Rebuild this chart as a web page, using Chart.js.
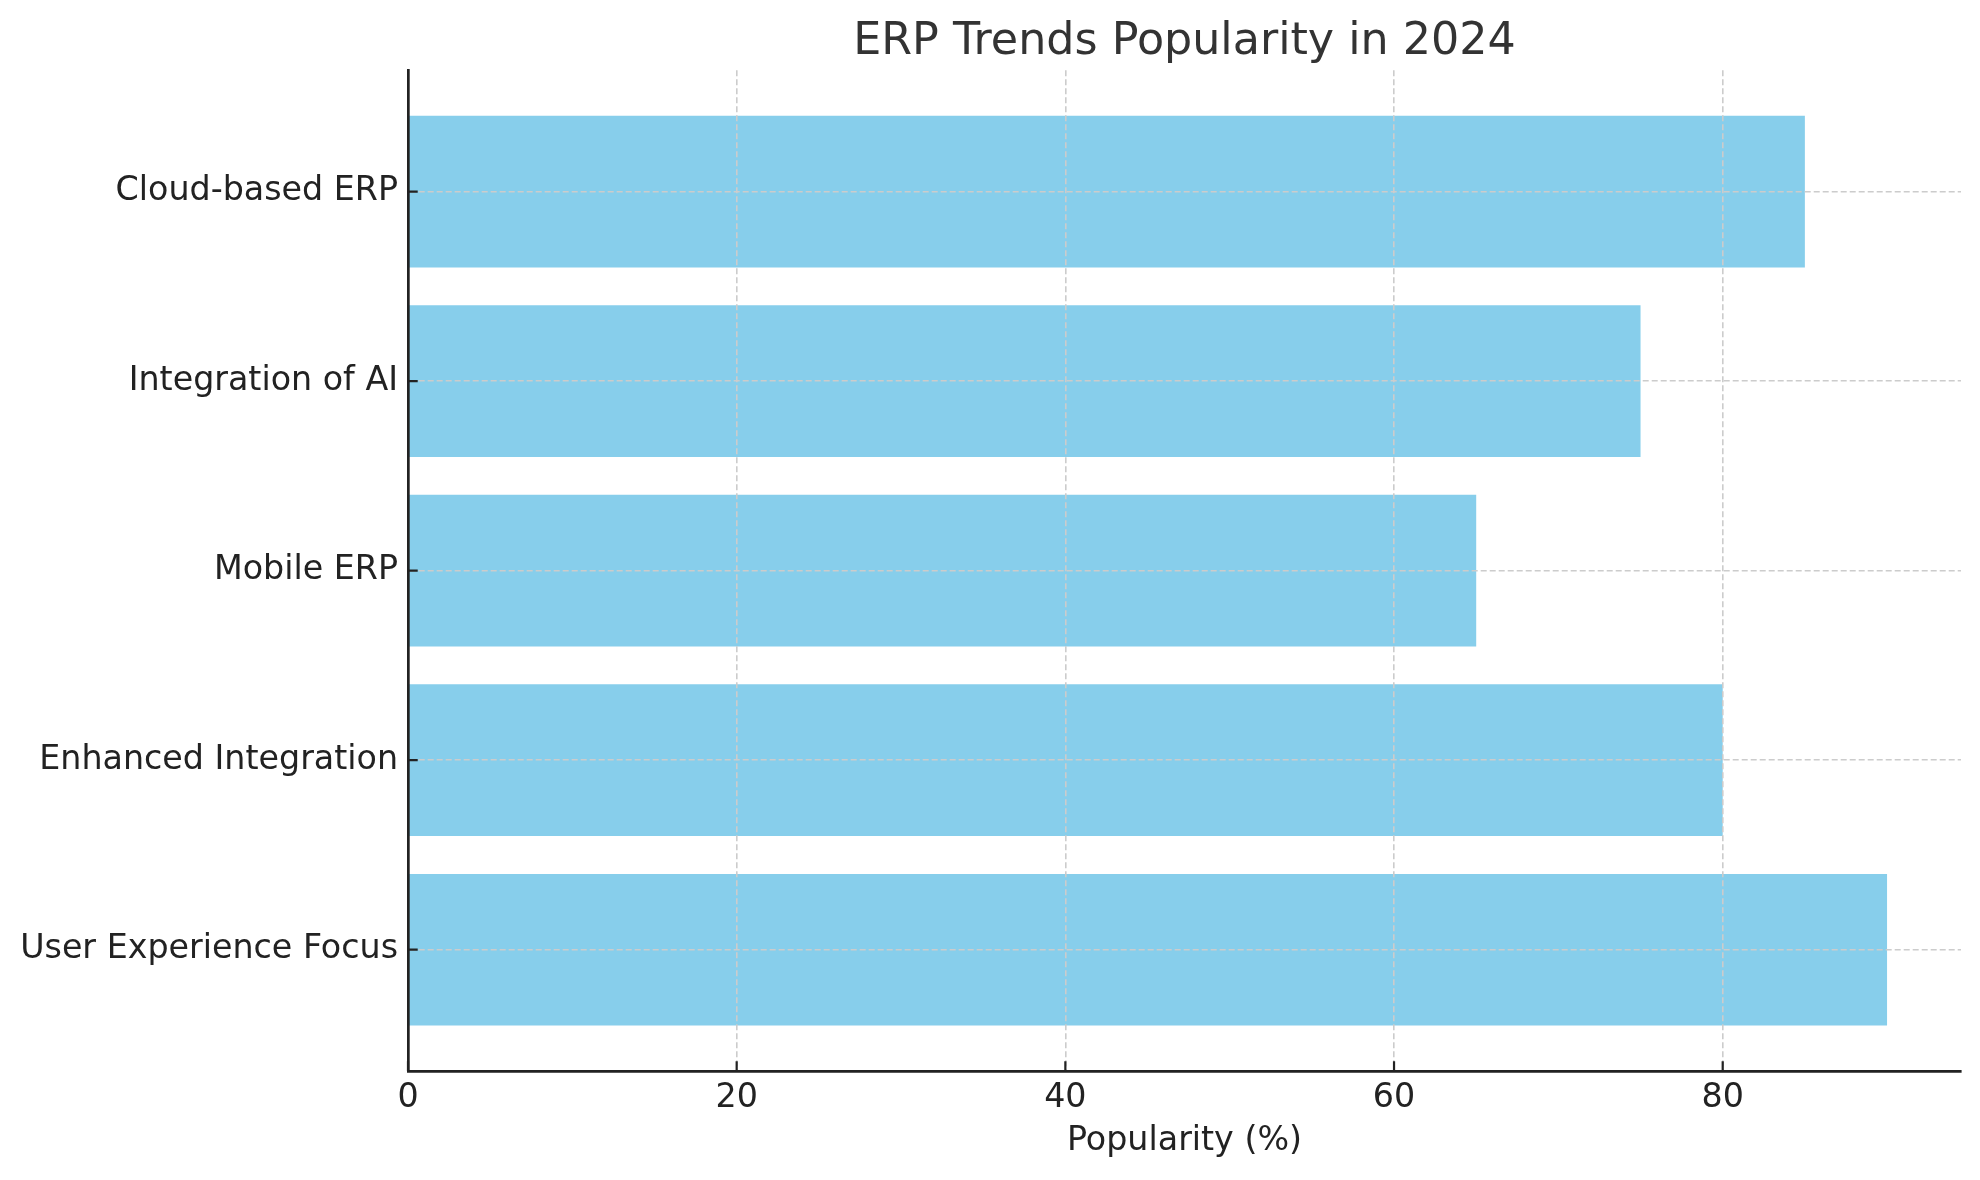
<!DOCTYPE html>
<html>
<head>
<meta charset="utf-8">
<script src="https://cdn.jsdelivr.net/npm/chart.js@4.4.1/dist/chart.umd.min.js"></script>
<style>
  html, body { margin: 0; padding: 0; background: #fff; }
  canvas { display: block; }
</style>
</head>
<body>
<canvas id="myChart" width="1980" height="1180"></canvas>
<script>
// categories listed top to bottom, as in the picture
const categories = ["Cloud-based ERP", "Integration of AI", "Mobile ERP", "Enhanced Integration", "User Experience Focus"];
const popularity = [85, 75, 65, 80, 90];
const xTicks = [0, 20, 40, 60, 80];

const FONT = "'DejaVu Sans', sans-serif";
const ink = "#222222";

// matplotlib-style ticks pointing into the plot
const innerTicks = {
  id: "innerTicks",
  afterDraw(chart) {
    const { ctx, chartArea, scales } = chart;
    ctx.save();
    ctx.strokeStyle = ink;
    ctx.lineWidth = 2.2;
    ctx.beginPath();
    scales.x.ticks.forEach((t) => {
      const px = scales.x.getPixelForValue(t.value);
      ctx.moveTo(px, chartArea.bottom);
      ctx.lineTo(px, chartArea.bottom - 9.7);
    });
    scales.y.ticks.forEach((t) => {
      const py = scales.y.getPixelForValue(t.value);
      ctx.moveTo(chartArea.left, py);
      ctx.lineTo(chartArea.left + 9.7, py);
    });
    ctx.stroke();
    ctx.restore();
  },
};

const ctx = document.getElementById("myChart");

new Chart(ctx, {
  type: "bar",
  data: {
    datasets: [
      {
        data: popularity.map((v, i) => ({ x: v, y: i })),
        backgroundColor: "#87CEEB",
        borderWidth: 0,
        categoryPercentage: 1,
        barPercentage: 0.8,
      },
    ],
  },
  plugins: [innerTicks],
  options: {
    indexAxis: "y",
    responsive: false,
    animation: false,
    devicePixelRatio: 1,
    layout: { padding: { left: 20, right: 19, top: 0, bottom: 0 } },
    plugins: {
      legend: { display: false },
      tooltip: { enabled: false },
      title: {
        display: true,
        text: "ERP Trends Popularity in 2024",
        fullSize: false,
        color: "#333333",
        font: { family: FONT, size: 44.4, weight: "normal" },
        padding: { top: 16, bottom: 1 },
      },
    },
    scales: {
      x: {
        type: "linear",
        min: 0,
        max: 94.5,
        afterBuildTicks: (s) => { s.ticks = xTicks.map((v) => ({ value: v })); },
        afterFit: (s) => { s.height = 109; },
        grid: { color: "#cccccc", lineWidth: 1.6, drawTicks: false, z: 1 },
        border: { display: true, color: ink, width: 2.7, dash: [6, 3], z: 2 },
        ticks: { color: ink, padding: 7, font: { family: FONT, size: 33.3 } },
        title: {
          display: true,
          text: "Popularity (%)",
          color: ink,
          font: { family: FONT, size: 33.3 },
          padding: { top: 4, bottom: 19 },
        },
      },
      y: {
        type: "linear",
        reverse: true,
        offset: false,
        min: -0.64,
        max: 4.64,
        afterBuildTicks: (s) => { s.ticks = categories.map((c, i) => ({ value: i })); },
        afterFit: (s) => { s.width = 388; },
        grid: { color: "#cccccc", lineWidth: 1.6, drawTicks: false, offset: false, z: 1 },
        border: { display: true, color: ink, width: 2.7, dash: [6, 3], z: 2 },
        ticks: {
          color: ink,
          padding: 10,
          font: { family: FONT, size: 33.3 },
          callback: (v) => categories[v] ?? "",
        },
      },
    },
  },
});
</script>
</body>
</html>
